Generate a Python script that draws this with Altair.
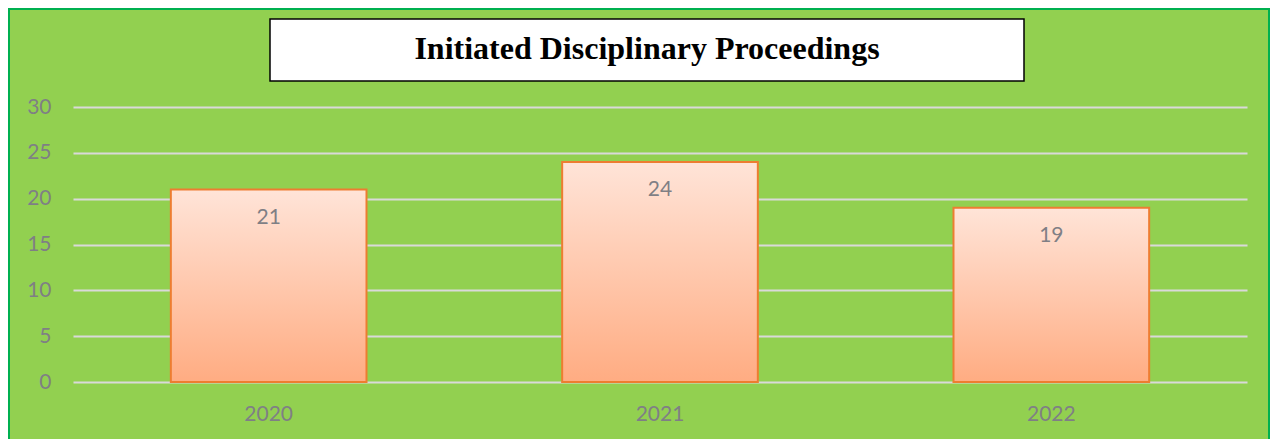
import altair as alt
import pandas as pd

years = ["2020", "2021", "2022"]
values = [21, 24, 19]
title_text = "Initiated Disciplinary Proceedings"
y_ticks = [0, 5, 10, 15, 20, 25, 30]

df = pd.DataFrame({"year": years, "value": values})
one = pd.DataFrame({"t": [title_text]})

W, H = 1174, 275
PL, PR, PT, PB = 65, 23, 99, 58

grad = alt.Gradient(
    gradient="linear",
    stops=[alt.GradientStop(color="#FFE4D8", offset=0),
           alt.GradientStop(color="#FFAC82", offset=1)],
    x1=0, x2=0, y1=0, y2=1,
)

xenc = alt.X("year:N", sort=years, title=None,
             scale=alt.Scale(paddingInner=0.5, paddingOuter=0.25),
             axis=alt.Axis(labelAngle=0, domain=False, ticks=False, labelPadding=21,
                           labelColor="#7F7F85", labelFont="Lato", labelFontSize=21))
yenc = alt.Y("value:Q", title=None,
             scale=alt.Scale(domain=[0, 30], nice=False),
             axis=alt.Axis(values=y_ticks, domain=False, ticks=False, labelPadding=22,
                           grid=True, gridColor="#D9D9D9", gridWidth=2,
                           labelColor="#7F7F85", labelFont="Lato", labelFontSize=21))

border = alt.Chart(one).mark_rect(fill=None, stroke="#00B050", strokeWidth=2).encode(
    x=alt.value(-64), x2=alt.value(W + PR - 1), y=alt.value(-PT + 1), y2=alt.value(H + PB + 20)
)
tbox = alt.Chart(one).mark_rect(fill="white", stroke="black", strokeWidth=1.5).encode(
    x=alt.value(197), x2=alt.value(951), y=alt.value(-88), y2=alt.value(-26)
)
ttext = alt.Chart(one).mark_text(font="Liberation Serif", fontWeight="bold", fontSize=32,
                                 color="black", align="center", baseline="alphabetic").encode(
    x=alt.value(574), y=alt.value(-48), text="t:N"
)
bars = alt.Chart(df).mark_bar(fill=grad, stroke="#ED7D31", strokeWidth=2).encode(
    x=xenc, y=yenc
)
labels = alt.Chart(df).mark_text(font="Lato", fontSize=21, color="#7F7F85",
                                 baseline="middle", dy=28).encode(
    x=alt.X("year:N", sort=years), y="value:Q", text="value:Q"
)

chart = alt.layer(border, tbox, ttext, bars, labels).properties(
    width=W, height=H,
    autosize=alt.AutoSizeParams(type="none"),
    padding={"left": PL, "right": PR, "top": PT, "bottom": PB},
    background="#92D050",
).configure_view(strokeWidth=0)

chart.save("out.html", embed_options={"renderer": "svg", "actions": False})
